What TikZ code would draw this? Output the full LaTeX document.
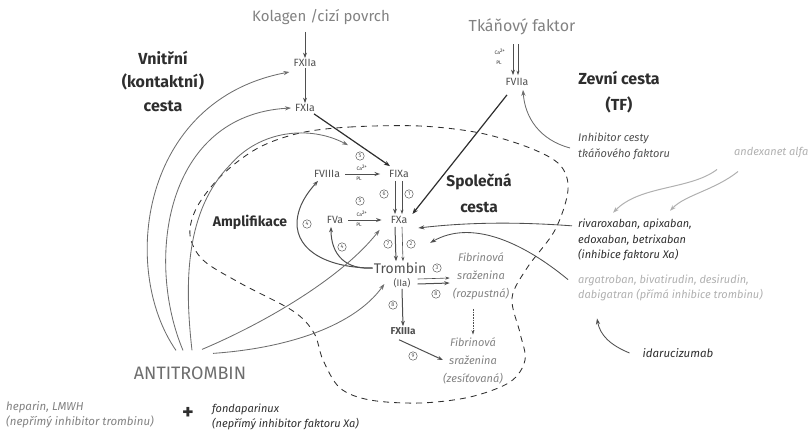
\documentclass[tikz,border=0pt]{standalone}
\usepackage{fontspec}
\setmainfont{Fira Sans}
\usetikzlibrary{arrows.meta,calc}
\definecolor{gA}{HTML}{828282}
\definecolor{gB}{HTML}{4F4F4F}
\definecolor{gC}{HTML}{B0B0B0}
\definecolor{gD}{HTML}{2E2E2E}
\definecolor{gE}{HTML}{6E6E6E}
\newcommand\fsz[2]{\fontsize{#1}{#2}\selectfont}
\begin{document}
\begin{tikzpicture}[x=1pt,y=-1pt,
  every node/.style={inner sep=1pt},
  fx/.style={font=\fsz{10.5}{12}, text=gB},
  head/.style={font=\fsz{16}{24}\bfseries, text=gD, align=center},
  drug/.style={font=\fsz{11}{15.5}\itshape, align=left, anchor=west},
  fib/.style={font=\fsz{11}{18}\itshape, text=gA, align=center},
  cn/.style={circle, draw=gB, line width=0.45pt, inner sep=0pt, minimum size=8.5pt, font=\fsz{5.5}{6}, text=gB},
  tiny/.style={font=\fsz{5}{5}, text=gD, inner sep=0pt},
  arr/.style={-{Stealth[length=5.5pt,width=4pt]}, draw=gB, line width=1pt},
  tarr/.style={-{Stealth[length=4.5pt,width=3pt]}, draw=gB, line width=0.6pt},
  blk/.style={-{Stealth[length=6pt,width=4.5pt]}, draw=gD, line width=1.2pt},
  garc/.style={-{Stealth[length=6pt,width=4.2pt]}, draw=gE, line width=0.85pt},
  larc/.style={-{Stealth[length=6pt,width=4.2pt]}, draw=gC, line width=1pt},
  dloop/.style={dash pattern=on 6pt off 5pt, draw=gD, line width=0.85pt}
]
\useasboundingbox (0,0) rectangle (808,433);

% ---- dashed loop ----
\draw[dloop] plot[smooth cycle, tension=0.55] coordinates {
 (300,133) (350,127) (420,126) (480,133) (530,148) (560,165) (568,190)
 (555,230) (527,268) (512,298) (520,333) (525,360) (510,382) (470,397)
 (420,403) (370,400) (340,388) (323,360) (314,333) (293,311) (240,283)
 (203,260) (190,235) (197,207) (222,175) (258,148)};

% ---- texts ----
\node[font=\fsz{15}{16}, text=gA] (kol) at (321,17) {Kolagen /cizí povrch};
\node[fx] (f12) at (305,63) {FXIIa};
\node[fx] (f11) at (305,108) {FXIa};
\node[fx] (f9) at (399,174) {FIXa};
\node[fx] (f8) at (327,174) {FVIIIa};
\node[fx] (f10) at (399,220) {FXa};
\node[fx] (f5) at (335,220) {FVa};
\node[font=\fsz{14}{15}, text=gB] (trom) at (400,268) {Trombin};
\node[font=\fsz{9.5}{10}, text=gB] (iia) at (402,283) {(IIa)};
\node[font=\fsz{10}{12}\bfseries, text=gB] (f13) at (403,331) {FXIIIa};
\node[fib] (fib1) at (481,276) {Fibrinová\\sraženina\\(rozpustná)};
\node[fib] (fib2) at (473,361) {Fibrinová\\sraženina\\(zesíťovaná)};
\node[font=\fsz{16}{17}, text=gA] (tf) at (522,27) {Tkáňový faktor};
\node[fx] (f7) at (517,82) {FVIIa};
\node[head, font=\fsz{16}{26}\bfseries] (zev) at (619,92) {Zevní cesta\\(TF)};
\node[head, font=\fsz{16}{23.5}\bfseries] (vni) at (163,81) {Vnitřní\\(kontaktní)\\cesta};
\node[head, font=\fsz{15.5}{26}\bfseries] (spol) at (479,193) {Společná\\cesta};
\node[font=\fsz{14}{16}\bfseries, text=gD] (ampl) at (250,222) {Amplifikace};
\node[drug, text=gB, font=\fsz{11}{16}\itshape] (tfpi) at (577,146) {Inhibitor cesty\\tkáňového faktoru};
\node[drug, text=gC, font=\fsz{11}{13}\itshape] (andex) at (733,153) {andexanet alfa};
\node[drug, text=gD] (xa) at (577,240) {rivaroxaban, apixaban,\\edoxaban, betrixaban\\(inhibice faktoru Xa)};
\node[drug, text=gC, font=\fsz{11}{15.5}\itshape] (thr) at (577,288) {argatroban, bivatirudin, desirudin,\\dabigatran (přímá inhibice trombinu)};
\node[font=\fsz{11.5}{13}\itshape, text=gD] (ida) at (678,353) {idarucizumab};
\node[font=\fsz{18}{20}, text=gE] (at) at (190,373) {ANTITROMBIN};
\node[drug, text=gA, font=\fsz{11.5}{15}\itshape] (hep) at (5,415) {heparin, LMWH\\(nepřímý inhibitor trombinu)};
\node[font=\fsz{22}{22}\bfseries, text=gD] (plus) at (188,413) {+};
\node[drug, text=gD, font=\fsz{11}{15}\itshape] (fon) at (211,417) {fondaparinux\\(nepřímý inhibitor faktoru Xa)};

% ---- circled numbers ----
\node[cn] (c5a) at (360,156) {5};
\node[cn] (c5b) at (360,201) {5};
\node[cn] (c6) at (384,194) {6};
\node[cn] (c1) at (409,194) {1};
\node[cn] (c7) at (388,244) {7};
\node[cn] (c2) at (411,244) {2};
\node[cn] (c3) at (437,268) {3};
\node[cn] (c4a) at (307,224) {4};
\node[cn] (c4b) at (342,247) {4};
\node[cn] (c8a) at (436,294) {8};
\node[cn] (c8b) at (393,305) {8};
\node[cn] (c9) at (413,356) {9};

% ---- Ca / PL tiny labels ----
\node[tiny] (ca1) at (362,168) {Ca\textsuperscript{2+}};
\node[tiny] (pl1) at (359,179) {PL};
\node[tiny] (ca2) at (362,214) {Ca\textsuperscript{2+}};
\node[tiny] (pl2) at (359,225) {PL};
\node[tiny] (ca3) at (500,52) {Ca\textsuperscript{2+}};
\node[tiny] (pl3) at (499,63) {PL};

% ---- intrinsic cascade ----
\draw[arr] ($(kol.south)+(-16,6)$) -- (f12.north);
\draw[arr] (f12.south) -- (f11.north);
\draw[blk] ($(f11.south east)+(-2,1)$) -- ($(f9.north)+(-9,-3)$);
\draw[arr] ($(f8.east)+(4,0)$) -- ($(f9.west)+(-8,0)$);
\draw[arr] ($(f5.east)+(4,0)$) -- ($(f10.west)+(-8,0)$);
\draw[arr] ($(f9.south)+(-4,2)$) -- ($(f10.north)+(-4,-1)$);
\draw[tarr] ($(f9.south)+(3,2)$) -- ($(f10.north)+(3,-1)$);
\draw[arr] ($(f10.south)+(-4,2)$) -- ($(trom.north)+(-4,0)$);
\draw[tarr] ($(f10.south)+(3,2)$) -- ($(trom.north)+(3,0)$);
\draw[tarr] ($(iia.east)+(6,-4)$) -- ($(fib1.west)+(-2,2)$);
\draw[arr] ($(iia.east)+(6,1)$) -- ($(fib1.west)+(-2,7)$);
\draw[arr] (iia.south) -- (f13.north);
\draw[arr] ($(f13.south)+(-4,4)$) -- ($(fib2.west)+(1,-1)$);
\draw[tarr, densely dotted] ($(fib1.south)+(-8,8)$) -- ($(fib2.north)+(0,-2)$);

% ---- amplification ----
\draw[arr] (trom.west) .. controls (330,268) and (296,252) .. (297,222)
  .. controls (298,205) and (308,192) .. ($(f8.south)+(-9,2)$);
\draw[arr] (trom.west) .. controls (346,270) and (331,255) .. ($(f5.south)+(-4,2)$);

% ---- extrinsic ----
\draw[arr] ($(tf.south)+(-9,8)$) -- ($(f7.north)+(-4,-2)$);
\draw[tarr] ($(tf.south)+(-4,8)$) -- ($(f7.north)+(1,-2)$);
\draw[blk] ($(f7.south)+(-10,8)$) -- ($(f10.east)+(4,-6)$);
\draw[garc] ($(tfpi.west)+(-7,2)$) .. controls (540,140) and (525,118) .. ($(f7.south)+(6,3)$);

% ---- antithrombin arcs ----
\coordinate (s1) at ($(at.north)+(-14,-15)$);
\coordinate (s2) at ($(at.north)+(-7,-15)$);
\coordinate (s3) at ($(at.north)+(2,-15)$);
\coordinate (s4) at ($(at.north)+(12,-16)$);
\coordinate (s5) at ($(at.north)+(23,-12)$);
\draw[garc] (s1) .. controls (120,270) and (140,100) .. ($(f12.west)+(-3,9)$);
\draw[garc] (s2) .. controls (145,260) and (165,115) .. ($(f11.west)+(-3,0)$);
\draw[garc] (s3) .. controls (184,280) and (186,210) .. (230,165)
  .. controls (260,130) and (310,125) .. ($(f9.north west)+(-40,-24)$);
\draw[garc] (s4) .. controls (260,325) and (340,280) .. ($(f10.south west)+(-10,5)$);
\draw[garc] (s5) .. controls (290,348) and (355,325) .. ($(iia.west)+(-8,1)$);

% ---- drugs ----
\draw[garc, draw=gB] ($(xa.north west)+(-5,8)$) .. controls (520,222) and (470,222) .. ($(f10.east)+(10,8)$);
\draw[garc, draw=gB] ($(thr.north west)+(-9,6)$) .. controls (520,240) and (470,220) .. ($(c3.north east)+(-10,-22)$);
\draw[garc, draw=gB] ($(ida.west)+(-12,0)$) .. controls (610,345) and (600,335) .. ($(thr.south west)+(20,16)$);
\draw[larc] ($(andex.south west)+(-16,10)$) .. controls (690,190) and (640,185) .. ($(xa.north west)+(36,-5)$);
\draw[larc] ($(andex.south west)+(5,12)$) .. controls (715,190) and (685,195) .. ($(xa.north west)+(93,-7)$);
\end{tikzpicture}
\end{document}
